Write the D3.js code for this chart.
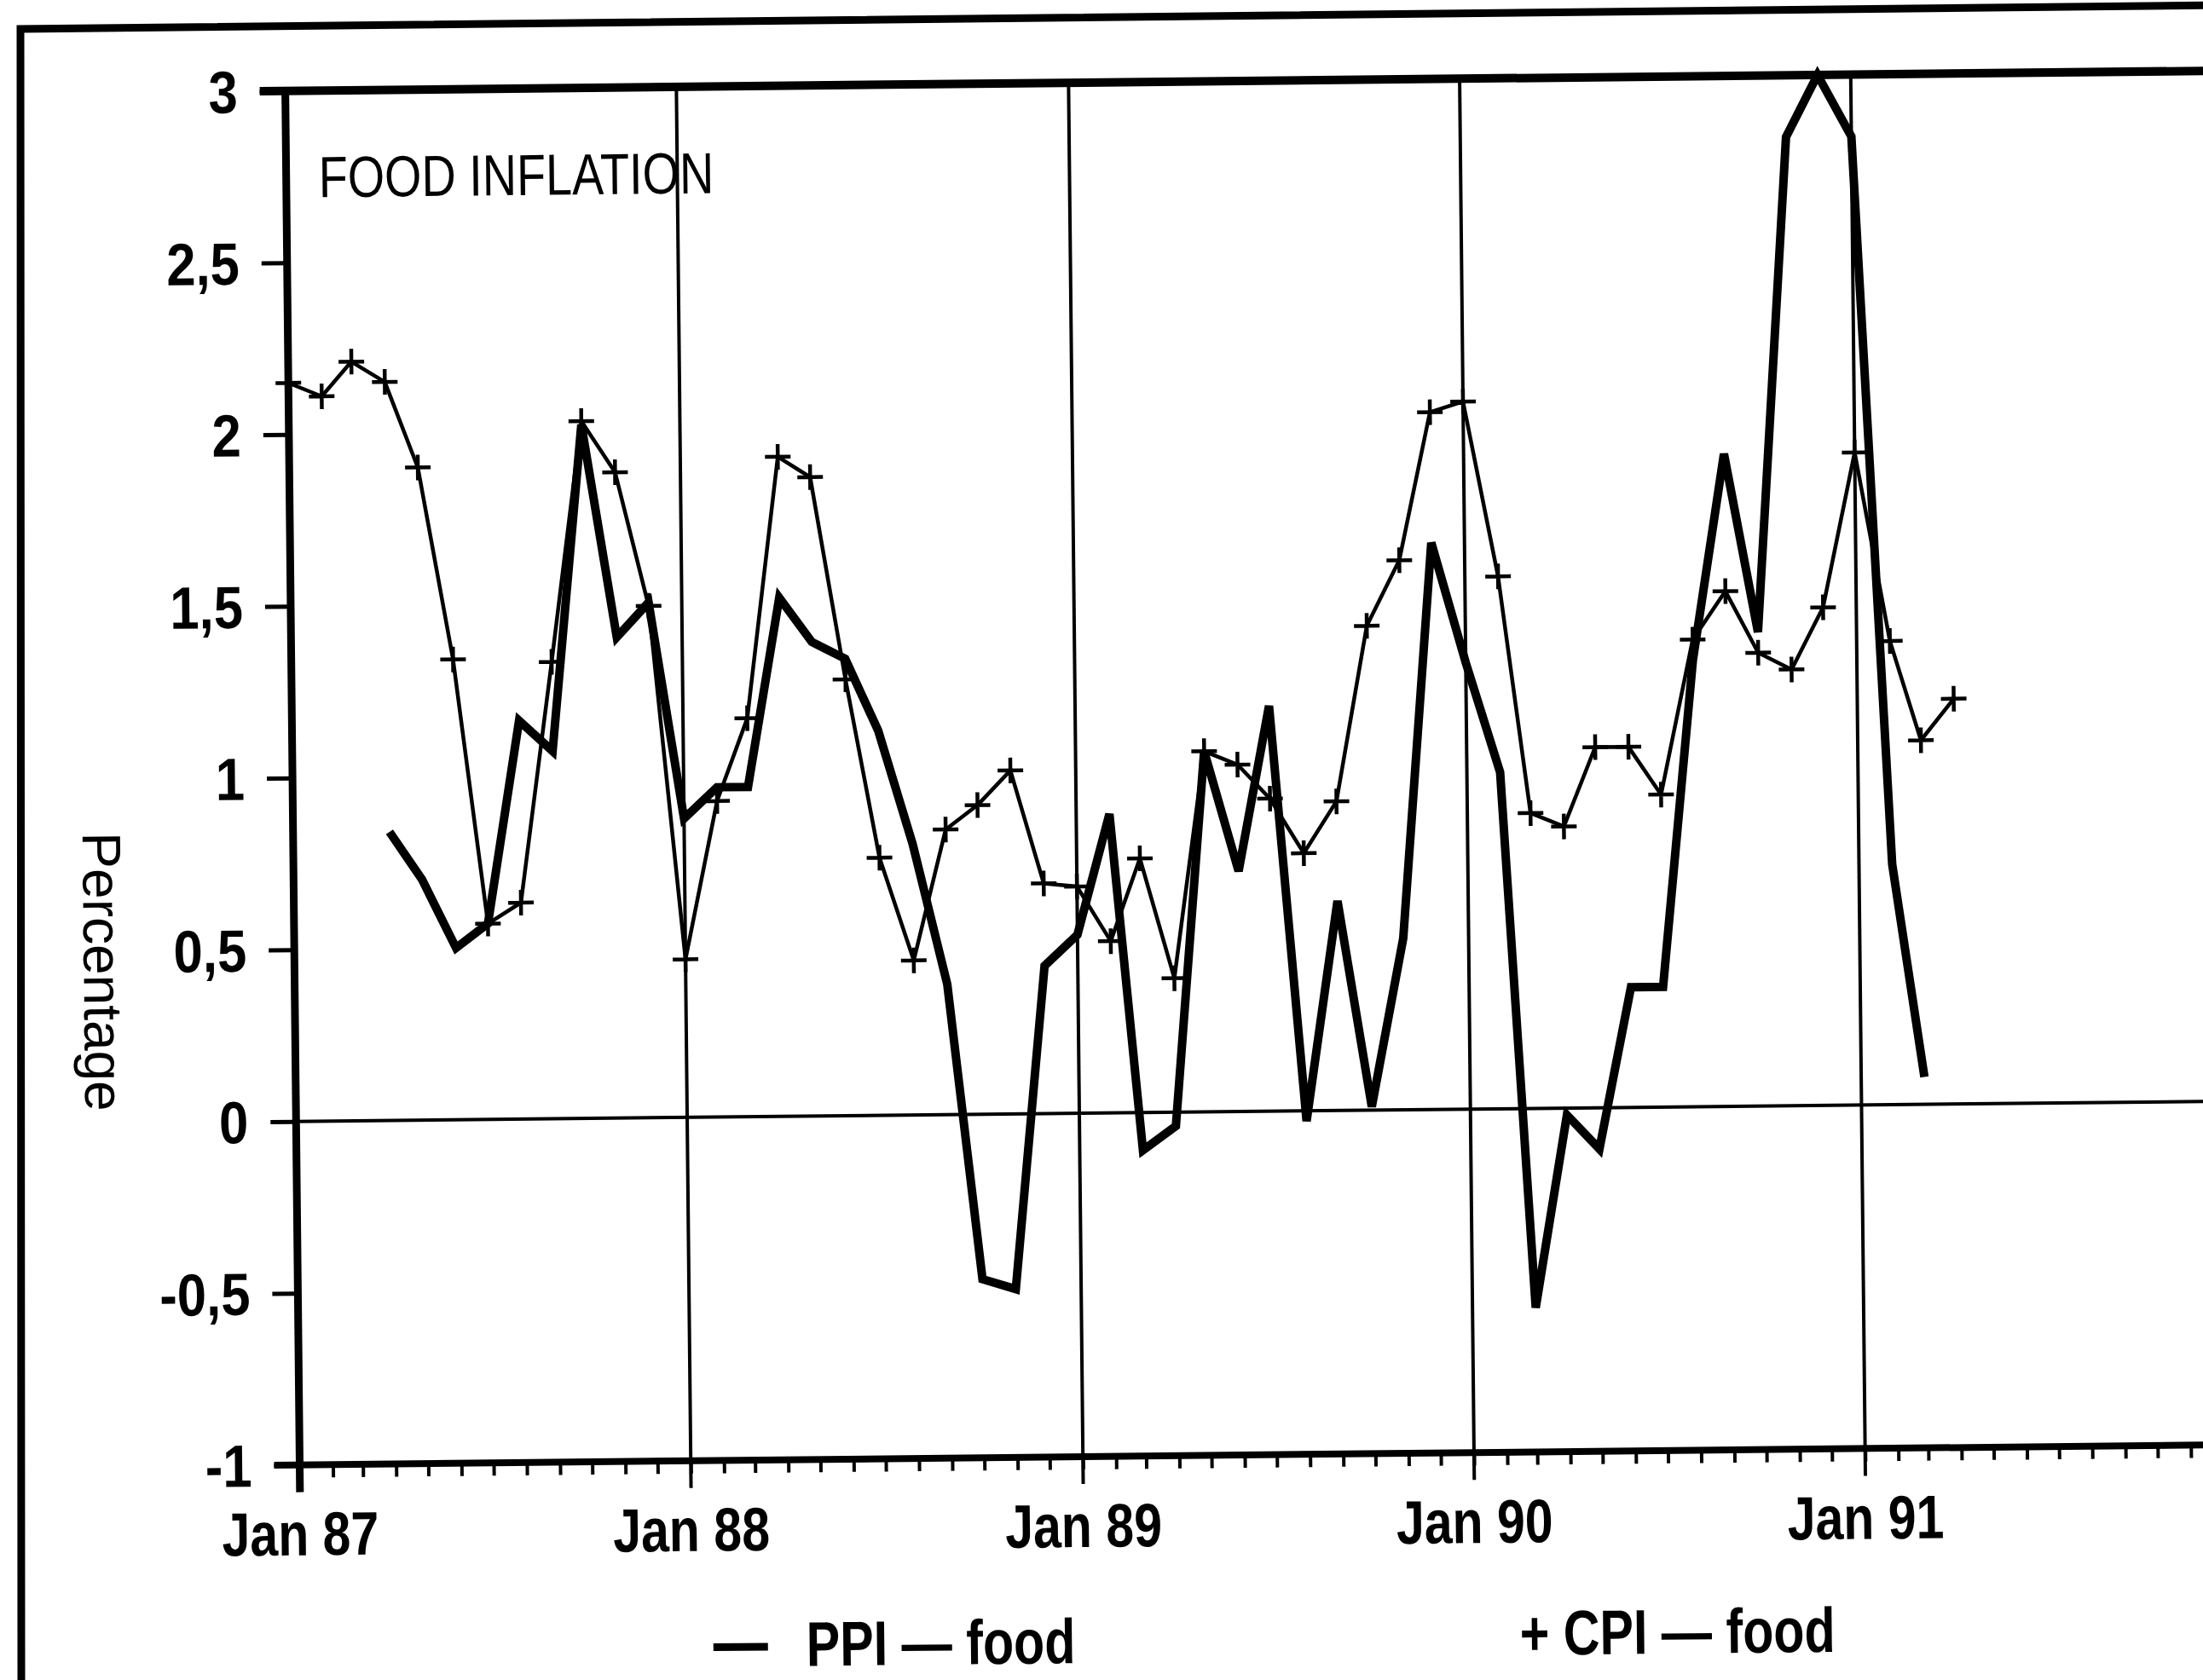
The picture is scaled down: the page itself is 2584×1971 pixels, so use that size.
<!DOCTYPE html>
<meta charset="utf-8">
<style>
  body { margin: 0; background: #fff; }
  svg { display: block; }
  text { font-family: "Liberation Sans", Arial, sans-serif; fill: #000; }
</style>

<body>
  <script src="https://d3js.org/d3.v7.min.js"></script>
  <script>
    // ---- data ----
    var yearLabels = ["Jan 87", "Jan 88", "Jan 89", "Jan 90", "Jan 91"];
    var yTicks = [-1, -0.5, 0, 0.5, 1, 1.5, 2, 2.5, 3];
    var yTickLabels = ["-1", "-0,5", "0", "0,5", "1", "1,5", "2", "2,5", "3"];

    // monthly % change, PPI food from Apr 87, CPI food from Jan 87
    var ppiStart = new Date(1987, 3, 1);
    var ppiValues = [0.84, 0.70, 0.50, 0.57, 1.16, 1.07, 2.02, 1.40, 1.50,
      0.87, 0.96, 0.96, 1.51, 1.38, 1.33, 1.12, 0.79, 0.38, -0.48, -0.51, 0.43,
      0.52, 0.87, -0.11, -0.04, 1.05, 0.70, 1.18, -0.03, 0.61, 0.01, 0.50, 1.65,
      1.30, 0.98, -0.58, -0.02, -0.12, 0.35, 0.35, 1.30, 1.90, 1.38, 2.82, 3.00,
      2.82, 0.70, 0.08];

    var cpiStart = new Date(1987, 0, 1);
    var cpiValues = [2.15, 2.11, 2.21, 2.15, 1.90, 1.34, 0.57, 0.63, 1.33, 2.03, 1.88, 1.49,
      0.46, 0.92, 1.16, 1.92, 1.86, 1.27, 0.75, 0.45, 0.83, 0.90, 1.00, 0.67,
      0.66, 0.50, 0.74, 0.39, 1.05, 1.01, 0.91, 0.75, 0.90, 1.41, 1.60, 2.03,
      2.06, 1.55, 0.86, 0.82, 1.05, 1.05, 0.91, 1.36, 1.50, 1.32, 1.27, 1.45,
      1.90, 1.35, 1.06, 1.18];

    var ppi = ppiValues.map(function (v, i) {
      return { date: d3.timeMonth.offset(ppiStart, i), value: v };
    });
    var cpi = cpiValues.map(function (v, i) {
      return { date: d3.timeMonth.offset(cpiStart, i), value: v };
    });

    var width = 2584, height = 1971;
    var plot = { left: 343, top: 95, right: 2638, bottom: 1707 };
    var edge = 2760; // lines run off the right of the page

    var x = d3.scaleTime()
      .domain([new Date(1987, 0, 1), new Date(1992, 0, 1)])
      .range([plot.left, plot.right]);

    var y = d3.scaleLinear()
      .domain([-1, 3])
      .range([plot.bottom, plot.top]);

    var svg = d3.select("body").append("svg")
      .attr("width", width)
      .attr("height", height);

    // outer page frame (its own skew on the scan)
    svg.append("path")
      .attr("d", "M25,1990L24,34L2600,6")
      .attr("fill", "none")
      .attr("stroke", "#000")
      .attr("stroke-width", 9);

    // the scanned chart is a little tilted
    var g = svg.append("g")
      .attr("transform", "rotate(-0.6,1460,900)");

    // condensed lettering like the original
    function label(sel, tx, ty, sx) {
      return sel.attr("transform", "translate(" + tx + "," + ty + ") scale(" + sx + ",1)");
    }

    // year grid lines (and their long ticks under the axis)
    var years = yearLabels.map(function (d, i) { return new Date(1987 + i, 0, 1); });
    g.selectAll(".grid")
      .data(years.slice(1))
      .enter().append("line")
      .attr("x1", function (d) { return x(d); })
      .attr("x2", function (d) { return x(d); })
      .attr("y1", plot.top)
      .attr("y2", plot.bottom + 32)
      .attr("stroke", "#000")
      .attr("stroke-width", 4);

    // zero line
    g.append("line")
      .attr("x1", plot.left).attr("x2", edge)
      .attr("y1", y(0)).attr("y2", y(0))
      .attr("stroke", "#000")
      .attr("stroke-width", 4);

    // monthly minor ticks on the x axis
    var xAxis = d3.axisBottom(x)
      .ticks(d3.timeMonth.every(1))
      .tickSize(15)
      .tickFormat("");
    var xa = g.append("g")
      .attr("transform", "translate(0," + plot.bottom + ")")
      .call(xAxis);
    xa.select(".domain").remove();
    xa.selectAll(".tick line").attr("stroke", "#000").attr("stroke-width", 4);

    // y axis ticks
    var yAxis = d3.axisLeft(y)
      .tickValues(yTicks)
      .tickSize(30)
      .tickFormat("");
    var ya = g.append("g")
      .attr("transform", "translate(" + plot.left + ",0)")
      .call(yAxis);
    ya.select(".domain").remove();
    ya.selectAll(".tick line").attr("stroke", "#000").attr("stroke-width", 5);

    // frame: top, left, bottom
    g.append("line")
      .attr("x1", plot.left - 30).attr("x2", edge)
      .attr("y1", plot.top).attr("y2", plot.top)
      .attr("stroke", "#000").attr("stroke-width", 10);
    g.append("line")
      .attr("x1", plot.left).attr("x2", plot.left)
      .attr("y1", plot.top - 4).attr("y2", plot.bottom + 32)
      .attr("stroke", "#000").attr("stroke-width", 9);
    g.append("line")
      .attr("x1", plot.left - 30).attr("x2", edge)
      .attr("y1", plot.bottom).attr("y2", plot.bottom)
      .attr("stroke", "#000").attr("stroke-width", 8);

    // y tick labels
    g.selectAll(".ylab")
      .data(yTicks)
      .enter().append("text")
      .attr("class", "ylab")
      .attr("text-anchor", "end")
      .attr("font-weight", "bold")
      .attr("font-size", 70)
      .text(function (d, i) { return yTickLabels[i]; })
      .each(function (d) { label(d3.select(this), plot.left - 56, y(d) + 25, 0.88); });

    // x tick labels
    g.selectAll(".xlab")
      .data(years)
      .enter().append("text")
      .attr("class", "xlab")
      .attr("text-anchor", "middle")
      .attr("font-weight", "bold")
      .attr("font-size", 72)
      .text(function (d, i) { return yearLabels[i]; })
      .each(function (d) { label(d3.select(this), x(d), plot.bottom + 106, 0.82); });

    // axis title
    g.append("text")
      .attr("text-anchor", "middle")
      .attr("font-size", 64)
      .attr("transform", "translate(96,1126) rotate(90)")
      .text("Percentage");

    // panel title
    label(g.append("text")
      .attr("font-size", 68)
      .text("FOOD INFLATION"), plot.left + 38, 220, 0.82);

    // series
    var line = d3.line()
      .x(function (d) { return x(d.date); })
      .y(function (d) { return y(d.value); });

    g.append("path")
      .datum(cpi)
      .attr("d", line)
      .attr("fill", "none")
      .attr("stroke", "#000")
      .attr("stroke-width", 4.5)
      .attr("stroke-linejoin", "round");

    g.selectAll(".mark")
      .data(cpi)
      .enter().append("path")
      .attr("class", "mark")
      .attr("transform", function (d) { return "translate(" + x(d.date) + "," + y(d.value) + ")"; })
      .attr("d", "M-15,0H15M0,-15V15")
      .attr("stroke", "#000")
      .attr("stroke-width", 4.5);

    g.append("path")
      .datum(ppi)
      .attr("d", line)
      .attr("fill", "none")
      .attr("stroke", "#000")
      .attr("stroke-width", 10)
      .attr("stroke-linejoin", "miter")
      .attr("stroke-miterlimit", 3);

    // legend
    g.append("line")
      .attr("x1", 826).attr("x2", 890)
      .attr("y1", 1926).attr("y2", 1926)
      .attr("stroke", "#000").attr("stroke-width", 9);
    label(g.append("text")
      .attr("font-weight", "bold")
      .attr("font-size", 74)
      .text("PPI \u2014 food"), 935, 1949, 0.8);
    label(g.append("text")
      .attr("font-weight", "bold")
      .attr("font-size", 74)
      .text("+ CPI \u2014 food"), 1772, 1945, 0.8);
  </script>
</body>
